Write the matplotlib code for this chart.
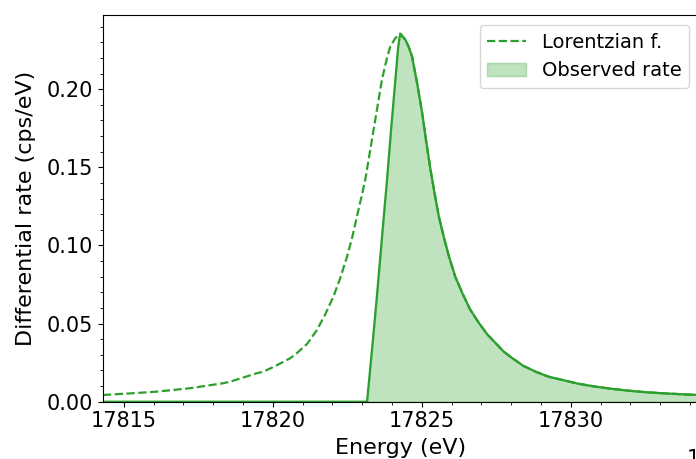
import numpy as np
import matplotlib
matplotlib.use('Agg')
from matplotlib import pyplot as plt

plt.rcParams['font.size'] = 15

# lorentzian curve (eV, cps/eV)
lor_e = [17814.3, 17815.2, 17816.09, 17817.21, 17818.33, 17818.56, 17819.46,
         17819.68, 17820.10, 17820.58, 17820.80, 17821.15, 17821.48, 17821.76,
         17822.03, 17822.26, 17822.49, 17822.66, 17822.82, 17822.96, 17823.10,
         17823.24, 17823.38, 17823.52, 17823.66, 17823.83, 17823.94, 17824.11,
         17824.27, 17824.45, 17824.56, 17824.67, 17824.84, 17825.01, 17825.15,
         17825.29, 17825.43, 17825.57, 17825.74, 17825.91, 17826.12, 17826.36,
         17826.62, 17826.92, 17827.20, 17827.48, 17827.75, 17828.04, 17828.40,
         17828.82, 17829.25, 17829.72, 17830.25, 17830.84, 17831.40, 17831.96,
         17832.50, 17833.09, 17833.70, 17834.3]
lor_r = [0.0043, 0.0053, 0.0064, 0.0086, 0.0118, 0.0128, 0.0182,
         0.0192, 0.0230, 0.0278, 0.0310, 0.0370, 0.0459, 0.0560,
         0.0672, 0.0790, 0.0929, 0.1050, 0.1185, 0.1300, 0.1420,
         0.1580, 0.1740, 0.1900, 0.2060, 0.2200, 0.2273, 0.2327,
         0.2355, 0.2316, 0.2270, 0.2209, 0.2039, 0.1847, 0.1660,
         0.1484, 0.1330, 0.1185, 0.1050, 0.0929, 0.0800, 0.0694,
         0.0590, 0.0502, 0.0430, 0.0374, 0.0320, 0.0278, 0.0230,
         0.0192, 0.0160, 0.0139, 0.0115, 0.0096, 0.0082, 0.0070,
         0.0061, 0.0054, 0.0048, 0.0043]

# observed rate
obs_e = [17814.3, 17823.16, 17823.30, 17823.49, 17823.66, 17823.83, 17823.97,
         17824.11, 17824.20, 17824.24, 17824.28, 17824.45, 17824.56, 17824.67,
         17824.84, 17825.01, 17825.15, 17825.29, 17825.43, 17825.57, 17825.74,
         17825.91, 17826.12, 17826.36, 17826.62, 17826.92, 17827.20, 17827.48,
         17827.75, 17828.04, 17828.40, 17828.82, 17829.25, 17829.72, 17830.25,
         17830.84, 17831.40, 17831.96, 17832.50, 17833.09, 17833.70, 17834.3]
obs_r = [0.0, 0.0, 0.0280, 0.0672, 0.1050, 0.1420, 0.1750,
         0.2060, 0.2260, 0.2320, 0.2355, 0.2316, 0.2270, 0.2209,
         0.2039, 0.1847, 0.1660, 0.1484, 0.1330, 0.1185, 0.1050,
         0.0929, 0.0800, 0.0694, 0.0590, 0.0502, 0.0430, 0.0374,
         0.0320, 0.0278, 0.0230, 0.0192, 0.0160, 0.0139, 0.0115,
         0.0096, 0.0082, 0.0070, 0.0061, 0.0054, 0.0048, 0.0043]

fig = plt.figure(figsize=(6.96, 4.59), dpi=100)
ax = fig.add_axes([103/696, 57.3/459, 596/696, 386.7/459])

ax.plot(lor_e, lor_r, '--', color='tab:green', lw=1.6, label='Lorentzian f.')
ax.plot(obs_e, obs_r, '-', color='tab:green', lw=1.6)
ax.fill_between(obs_e, obs_r, color='tab:green', alpha=0.3, label='Observed rate')

ax.set_xlim(17814.3, 17834.3)
ax.set_ylim(0, 0.2475)
ax.set_xticks([17815, 17820, 17825, 17830])
ax.set_yticks([0.0, 0.05, 0.10, 0.15, 0.20])
ax.set_yticklabels(['0.00', '0.05', '0.10', '0.15', '0.20'])
ax.minorticks_on()
ax.ticklabel_format(axis='x', useOffset=False, style='plain')
ax.set_xlabel('Energy (eV)', fontsize=16, labelpad=5)
ax.set_ylabel('Differential rate (cps/eV)', fontsize=16, labelpad=8)
ax.legend(loc='upper right', fontsize=14)

fig.text(687/696, 1 - 449/459, '1', ha='left', va='top', fontsize=15)

fig.savefig('out.png', dpi=100)
